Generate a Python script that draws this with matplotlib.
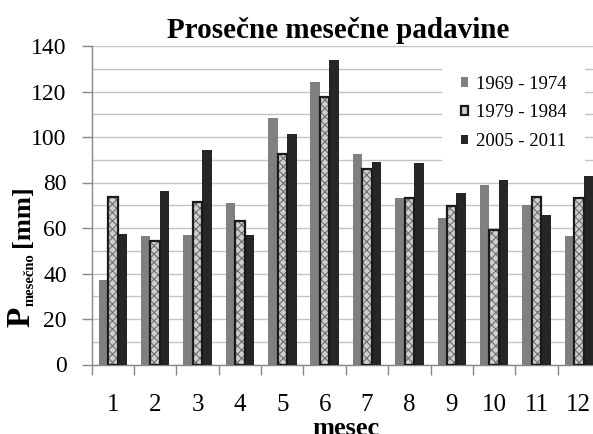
from matplotlib import pyplot as plt
import numpy as np

plt.rcParams['font.family'] = ['Liberation Serif', 'DejaVu Serif']
plt.rcParams['hatch.linewidth'] = 0.8

months = ['1', '2', '3', '4', '5', '6', '7', '8', '9', '10', '11', '12']
p_1969_1974 = [37.3, 56.4, 56.9, 71.0, 108.3, 124.2, 92.5, 73.2, 64.3, 79.0, 69.9, 56.4]
p_1979_1984 = [73.7, 54.3, 71.3, 63.0, 92.7, 117.6, 86.1, 73.1, 69.7, 59.0, 73.7, 73.1]
p_2005_2011 = [57.5, 76.2, 94.4, 56.9, 101.4, 133.8, 89.2, 88.6, 75.4, 81.3, 65.9, 82.9]
labels = ['1969 - 1974', '1979 - 1984', '2005 - 2011']

W, H = 593, 434
fig = plt.figure(figsize=(W / 100, H / 100), dpi=100)
ax = fig.add_axes([91.7 / W, 1 - 364.5 / H, (600 - 91.7) / W, (364.5 - 46) / H])

x = np.arange(len(months))
w = 0.224

b1 = ax.bar(x - w, p_1969_1974, w, color='#808080', zorder=3)
# speckled bars: hatch fill first, then black outline on top
ax.bar(x, p_1979_1984, w, color='#cfcfcf', hatch='xxxx', edgecolor='#6e6e6e', linewidth=0, zorder=3)
ax.bar(x, p_1979_1984, w, fill=False, edgecolor='#1a1a1a', linewidth=1.6, zorder=4)
b3 = ax.bar(x + w, p_2005_2011, w, color='#262626', zorder=3)

ax.set_xlim(-0.5, len(months) - 0.5)
ax.set_ylim(0, 140)

# y axis: labels every 20, gridlines every 10
ax.set_yticks(np.arange(0, 141, 20))
ax.set_yticks(np.arange(0, 141, 10), minor=True)
ax.tick_params(axis='y', which='major', labelsize=17, length=7, width=1, color='#888888', pad=11)
ax.tick_params(axis='y', which='minor', length=0)
ax.grid(axis='y', which='both', color='#c4c4c4', linewidth=1, zorder=0)

# x axis: ticks between the months, labels on the months
ax.set_xticks(np.arange(-0.5, len(months), 1))
ax.set_xticklabels([])
ax.set_xticks(x, minor=True)
ax.set_xticklabels(months, minor=True)
ax.tick_params(axis='x', which='major', length=7, width=1, color='#888888')
ax.tick_params(axis='x', which='minor', length=0, labelsize=18, pad=21)

for side in ['top', 'right']:
    ax.spines[side].set_visible(False)
for side in ['left', 'bottom']:
    ax.spines[side].set_color('#888888')
    ax.spines[side].set_linewidth(1)

# legend handles built from the drawn bars
h2 = plt.Rectangle((0, 0), 1, 1, facecolor='#cfcfcf', edgecolor='#1a1a1a', linewidth=1.6)
leg = ax.legend([b1, h2, b3], labels, loc='upper left',
                bbox_to_anchor=(442 / W, 1 - 57 / H), bbox_transform=fig.transFigure,
                fontsize=13.5, frameon=True, facecolor='white', edgecolor='none',
                fancybox=False, framealpha=1, borderpad=1.0, borderaxespad=0,
                handlelength=0.4, handleheight=0.4, handletextpad=0.4, labelspacing=0.62)
leg.set_zorder(5)

fig.text(338 / W, 1 - 38 / H, 'Prosečne mesečne padavine', fontsize=21, fontweight='bold',
         ha='center', va='baseline')
fig.text(346 / W, 1 - 435 / H, 'mesec', fontsize=19, fontweight='bold', ha='center', va='baseline')

# y label pieces: P, subscript, [mm]
fig.text(21 / W, 1 - 317 / H, 'P', fontsize=24, fontweight='bold', rotation=90, ha='center', va='center')
fig.text(30 / W, 1 - 280 / H, 'mesečno', fontsize=10.5, fontweight='bold', rotation=90, ha='center', va='center')
fig.text(22 / W, 1 - 216 / H, '[mm]', fontsize=19, fontweight='bold', rotation=90, ha='center', va='center')

fig.savefig('out.png', dpi=100)
